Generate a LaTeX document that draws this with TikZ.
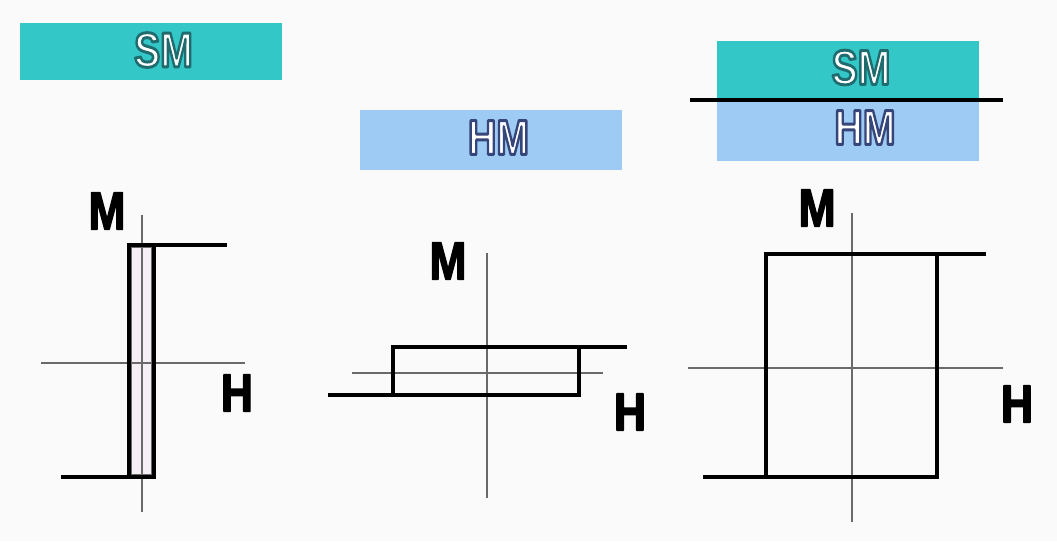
\documentclass[tikz,border=0pt]{standalone}
\usepackage{fontspec}
\setmainfont{Liberation Sans}
\newfontface\tagfont[FakeBold=6]{Liberation Sans Bold}
\newfontface\heavyfont[FakeBold=3]{Liberation Sans Bold}
\usepackage{xcolor}
\definecolor{smteal}{HTML}{33C7C7}
\definecolor{hmblue}{HTML}{9DCBF4}
\definecolor{axisgray}{HTML}{6A6A6A}
\definecolor{loopfill}{HTML}{F6F0F6}
\newcommand{\roundjoin}{\special{pdf:literal direct 1 j}}
\newcommand{\smedge}{\roundjoin\special{pdf:literal direct 0.12 0.42 0.43 RG}}
\newcommand{\hmedge}{\roundjoin\special{pdf:literal direct 0.21 0.27 0.48 RG}}

\begin{document}
\begin{tikzpicture}[
    x=1pt, y=-1pt,
    band/.style={minimum width=262pt, inner sep=0pt},
    tag/.style={inner sep=0pt, xscale=0.8, transform shape, text=white, font=\fontsize{49}{49}\tagfont},
    axislbl/.style={inner sep=0pt, xscale=0.84, transform shape, font=\fontsize{53}{53}\heavyfont\roundjoin},
    axis/.style={draw=axisgray, line width=1.1pt},
    loopline/.style={draw=black, line width=3.8pt}
]
\useasboundingbox[fill=white!98!black] (0,0) rectangle (1057,541);
\node[band, fill=smteal, minimum height=57pt] (smbar) at (151,51.5) {};
\node[band, fill=hmblue, minimum height=60pt] (hmbar) at (491,140) {};
\node[band, fill=smteal, minimum height=59pt] (bothsm) at (848,70.5) {};
\node[band, fill=hmblue, minimum height=61pt] (bothhm) at (848,130.5) {};
\node[tag] (smtxt) at (163.5,50) {\smedge SM};
\node[tag] (hmtxt) at (498.5,137.5) {\hmedge HM};
\node[tag] (bothsmtxt) at (861,67.5) {\smedge SM};
\node[tag] (bothhmtxt) at (865,127.5) {\hmedge HM};
\draw[loopline] (690,100) -- (1003,100);

\fill[loopfill] (129,245) rectangle (154,477);
\draw[axisgray, line width=0.6pt] (131.5,247.5) rectangle (151.5,474.5);
\draw[axis] (142,215) -- (142,512);
\draw[axis] (41,363) -- (245,363);
\draw[loopline] (129,245) rectangle (154,477);
\draw[loopline] (61,477) -- (129,477);
\draw[loopline] (154,245) -- (227,245);
\node[axislbl] (ma) at (107,211) {M};
\node[axislbl] (ha) at (237,393) {H};

\draw[axis] (487,253) -- (487,498);
\draw[axis] (352,373) -- (603,373);
\draw[loopline] (393,347) rectangle (579,395);
\draw[loopline] (328,395) -- (393,395);
\draw[loopline] (579,347) -- (627,347);
\node[axislbl] (mb) at (448,261) {M};
\node[axislbl] (hb) at (630,412) {H};

\draw[axis] (852,213) -- (852,522);
\draw[axis] (688,368) -- (1003,368);
\draw[loopline] (766,254) rectangle (937,477);
\draw[loopline] (937,254) -- (986,254);
\draw[loopline] (703,477) -- (766,477);
\node[axislbl] (mc) at (817,208) {M};
\node[axislbl] (hc) at (1017,404) {H};
\end{tikzpicture}
\end{document}
